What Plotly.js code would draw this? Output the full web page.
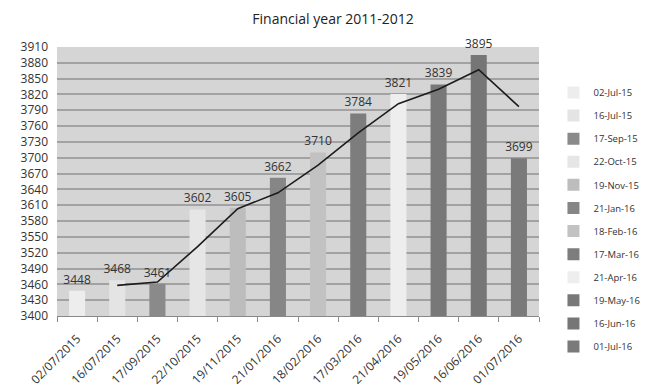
<!DOCTYPE html>
<html>
<head>
<meta charset="utf-8">
<script src="https://cdn.plot.ly/plotly-3.0.1.min.js"></script>
<style>html,body{margin:0;padding:0;background:#fff;}#chart{width:657px;height:384px;}</style>
</head>
<body>
<div id="chart"></div>
<script>
const categories = ["02/07/2015","16/07/2015","17/09/2015","22/10/2015","19/11/2015","21/01/2016","18/02/2016","17/03/2016","21/04/2016","19/05/2016","16/06/2016","01/07/2016"];
const seriesNames = ["02-Jul-15","16-Jul-15","17-Sep-15","22-Oct-15","19-Nov-15","21-Jan-16","18-Feb-16","17-Mar-16","21-Apr-16","19-May-16","16-Jun-16","01-Jul-16"];
const values = [3448,3468,3461,3602,3605,3662,3710,3784,3821,3839,3895,3699];
const barColors = ["#ededed","#e4e4e4","#8a8a8a","#e6e6e6","#bdbdbd","#868686","#c2c2c2","#7d7d7d","#eeeeee","#787878","#767676","#7a7a7a"];
const trendX = ["16/07/2015","17/09/2015","22/10/2015","19/11/2015","21/01/2016","18/02/2016","17/03/2016","21/04/2016","19/05/2016","16/06/2016","01/07/2016"];
const trendY = [3458,3464.5,3531.5,3603.5,3633.5,3686,3747,3802.5,3830,3867,3797];

const font = "'Open Sans', 'Liberation Sans', sans-serif";
const traces = categories.map((c, i) => ({
  type: "bar",
  name: seriesNames[i],
  x: [c],
  y: [values[i]],
  width: 0.4,
  marker: {color: barColors[i]},
  text: [String(values[i])],
  textposition: "outside",
  textfont: {family: font, size: 12, color: "#333"},
  cliponaxis: false,
  constraintext: "none",
  legendgroup: "g" + i
}));
traces.push({
  type: "scatter",
  mode: "lines",
  x: trendX,
  y: trendY,
  line: {color: "#1c1c1c", width: 1.6},
  showlegend: false,
  hoverinfo: "skip"
});

const layout = {
  width: 657, height: 384,
  margin: {l: 57, r: 87, t: 47, b: 68},
  paper_bgcolor: "#ffffff",
  plot_bgcolor: "#d5d5d5",
  barmode: "overlay",
  title: {text: "Financial year 2011-2012", font: {family: font, size: 14, color: "#222"}, x: 0.507, xanchor: "center", y: 0.95, yanchor: "middle"},
  xaxis: {
    type: "category",
    categoryorder: "array",
    categoryarray: categories,
    tickangle: -45,
    tickfont: {family: font, size: 12, color: "#333"},
    showgrid: false,
    showline: true,
    linecolor: "#8a8a8a",
    linewidth: 1,
    ticks: "outside",
    tickson: "boundaries",
    ticklen: 5,
    tickcolor: "#8a8a8a",
    ticklabelstandoff: 10,
    fixedrange: true
  },
  yaxis: {
    range: [3400, 3910],
    tickmode: "linear",
    tick0: 3400,
    dtick: 30,
    tickfont: {family: font, size: 12, color: "#333"},
    showgrid: true,
    gridcolor: "#a2a2a2",
    gridwidth: 2,
    zeroline: false,
    showline: false,
    ticks: "",
    ticklabelstandoff: 8,
    fixedrange: true
  },
  legend: {
    x: 1.03, xanchor: "left", y: 0.885, yanchor: "top",
    font: {family: font, size: 9.5, color: "#333"},
    traceorder: "grouped",
    tracegroupgap: 4.1,
    itemwidth: 30,
    maxheight: 380,
    bgcolor: "rgba(0,0,0,0)"
  },
  showlegend: true
};

Plotly.newPlot("chart", traces, layout, {displayModeBar: false, staticPlot: true});
</script>
</body>
</html>
